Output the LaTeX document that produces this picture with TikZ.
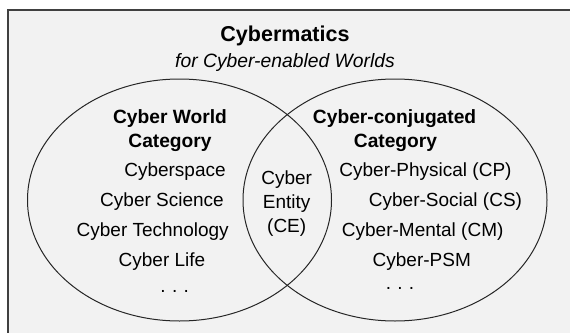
\documentclass[tikz,border=0pt]{standalone}
\usepackage{fontspec}
\setmainfont{Liberation Sans}
\usetikzlibrary{positioning}
\definecolor{panelgray}{HTML}{F2F2F2}
\definecolor{framegray}{HTML}{404040}

\begin{document}
\begin{tikzpicture}[x=1pt, y=-1pt,
    itemtext/.style={inner sep=0pt, anchor=base, font=\fontsize{19}{23}\selectfont},
    headtext/.style={itemtext, font=\fontsize{19.2}{23}\selectfont\bfseries},
    venn/.style={draw=black!85, line width=1pt}]
  \useasboundingbox (0,0) rectangle (570,332);
  \fill[white] (0,0) rectangle (570,332);
  \draw[draw=framegray, fill=panelgray, line width=2pt] (7.5,9.5) rectangle (590,350);

  % the two worlds
  \coordinate (cw) at (179.5,200);
  \coordinate (cc) at (395,200);
  \draw[venn] (cw) ellipse [x radius=152pt, y radius=121pt];
  \draw[venn] (cc) ellipse [x radius=152pt, y radius=121pt];

  \node[headtext, font=\fontsize{21.5}{25}\selectfont\bfseries] (title) at (285,41) {Cybermatics};
  \node[itemtext, font=\fontsize{19.3}{23}\selectfont\itshape] (sub) at (285,67) {for Cyber-enabled Worlds};

  % left: cyber world
  \node[headtext] (cwhead) at (170,123) {Cyber World};
  \node[headtext] (cwcat) at (170,147) {Category};
  \node[itemtext] (cspace) at (175,176) {Cyberspace};
  \node[itemtext] (csci) at (162,206) {Cyber Science};
  \node[itemtext] (ctech) at (152.7,236) {Cyber Technology};
  \node[itemtext] (clife) at (162,266) {Cyber Life};
  \node[itemtext] (cwdots) at (174.7,292) {.\,\,.\,\,.};

  % middle: the entity
  \node[itemtext] (ce1) at (286.7,184) {Cyber};
  \node[itemtext] (ce2) at (286.7,208) {Entity};
  \node[itemtext] (ce3) at (286.7,232) {(CE)};

  % right: cyber-conjugated
  \node[headtext] (cchead) at (394.6,123) {Cyber-conjugated};
  \node[headtext] (cccat) at (395.5,147) {Category};
  \node[itemtext] (cp) at (425.5,176) {Cyber-Physical (CP)};
  \node[itemtext] (cs) at (445.5,206) {Cyber-Social (CS)};
  \node[itemtext] (cm) at (422.7,236) {Cyber-Mental (CM)};
  \node[itemtext] (cpsm) at (421.8,266) {Cyber-PSM};
  \node[itemtext] (ccdots) at (400,289) {.\,\,.\,\,.};
\end{tikzpicture}
\end{document}
